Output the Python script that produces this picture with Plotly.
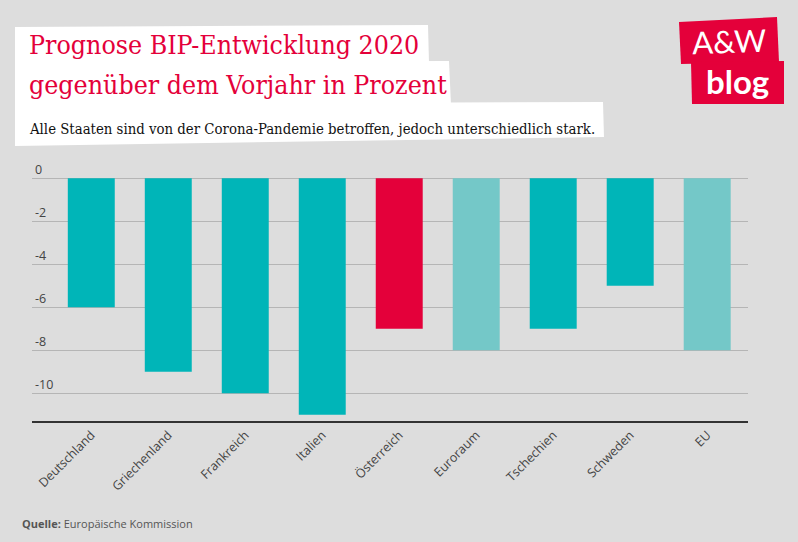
import plotly.graph_objects as go

categories = ["Deutschland", "Griechenland", "Frankreich", "Italien", "Österreich",
              "Euroraum", "Tschechien", "Schweden", "EU"]
values = [-6, -9, -10, -11, -7, -8, -7, -5, -8]
bar_colors = ["#00B5B8", "#00B5B8", "#00B5B8", "#00B5B8", "#E4003A",
              "#74C8C8", "#00B5B8", "#00B5B8", "#74C8C8"]
y_ticks = [0, -2, -4, -6, -8, -10]
title_lines = ["Prognose BIP-Entwicklung 2020", "gegenüber dem Vorjahr in Prozent"]
subtitle = "Alle Staaten sind von der Corona-Pandemie betroffen, jedoch unterschiedlich stark."
source = "<b>Quelle:</b> Europäische Kommission"

W, H = 798, 542
L, R, T, B = 32, 748, 150, 421
Y_TOP, Y_BOT = 1.32, -11.29


def px(x):
    return (x - L) / (R - L)


def py(y):
    return (B - y) / (B - T)


def poly(pts):
    return "M " + " L ".join(f"{px(x):.5f},{py(y):.5f}" for x, y in pts) + " Z"


fig = go.Figure()
fig.add_trace(go.Bar(x=categories, y=values, marker=dict(color=bar_colors, line=dict(width=0)),
                     width=0.61, hoverinfo="x+y"))

serif = "DejaVu Serif Condensed, DejaVu Serif"
shapes = [
    dict(type="path", xref="paper", yref="paper", path=poly([(15, 27), (428, 25), (429, 63), (15, 63)]),
         fillcolor="white", line=dict(width=0), layer="above"),
    dict(type="path", xref="paper", yref="paper", path=poly([(15, 62), (449, 61), (451, 105), (15, 106)]),
         fillcolor="white", line=dict(width=0), layer="above"),
    dict(type="path", xref="paper", yref="paper", path=poly([(15, 104), (603, 102), (604, 137), (15, 146)]),
         fillcolor="white", line=dict(width=0), layer="above"),
    dict(type="path", xref="paper", yref="paper", path=poly([(679, 22), (777, 17), (779, 62), (681, 64)]),
         fillcolor="#E4003A", line=dict(width=0), layer="above"),
    dict(type="path", xref="paper", yref="paper", path=poly([(691, 62), (784, 61), (784, 104), (692, 104)]),
         fillcolor="#E4003A", line=dict(width=0), layer="above"),
]

annotations = [
    dict(text=title_lines[0], x=px(27), y=py(45), xref="paper", yref="paper", xanchor="left", yanchor="middle",
         showarrow=False, font=dict(family=serif, size=26.5, color="#E4003A")),
    dict(text=title_lines[1], x=px(27), y=py(85), xref="paper", yref="paper", xanchor="left", yanchor="middle",
         showarrow=False, font=dict(family=serif, size=26.5, color="#E4003A")),
    dict(text=subtitle, x=px(27), y=py(129), xref="paper", yref="paper", xanchor="left", yanchor="middle",
         showarrow=False, font=dict(family=serif, size=14.8, color="#111111")),
    dict(text="A&W", x=px(729), y=py(41), xref="paper", yref="paper", xanchor="center", yanchor="middle",
         showarrow=False, textangle=-2, font=dict(family="Lato", size=31, color="white")),
    dict(text="<b>blog</b>", x=px(737), y=py(81), xref="paper", yref="paper", xanchor="center", yanchor="middle",
         showarrow=False, font=dict(family="Lato", size=33, color="white")),
    dict(text=source, x=px(20), y=py(523), xref="paper", yref="paper", xanchor="left", yanchor="middle",
         showarrow=False, font=dict(family="Open Sans", size=11, color="#555555")),
]

fig.update_layout(
    width=W, height=H,
    margin=dict(l=L, r=W - R, t=T, b=H - B, pad=0),
    paper_bgcolor="#DDDDDD", plot_bgcolor="#DDDDDD",
    showlegend=False,
    shapes=shapes,
    annotations=annotations,
    font=dict(family="Open Sans", color="#444444"),
    xaxis=dict(range=[-0.77, 8.53], showgrid=False, showline=True, linecolor="#333333", linewidth=2,
               ticks="", tickangle=-45, tickfont=dict(family="Open Sans", size=12.5, color="#444444"),
               zeroline=False, fixedrange=True),
    yaxis=dict(range=[Y_BOT, Y_TOP], tickvals=y_ticks, ticktext=[str(v) for v in y_ticks],
               showgrid=True, gridcolor="#B5B5B5", gridwidth=1, zeroline=False, showline=False,
               ticklabelposition="inside top", tickfont=dict(family="Open Sans", size=12.5, color="#444444"),
               fixedrange=True),
)

fig.write_html("out.html", config={"displayModeBar": False},
               post_script="document.body.style.margin='0px';document.body.style.overflow='hidden';")
